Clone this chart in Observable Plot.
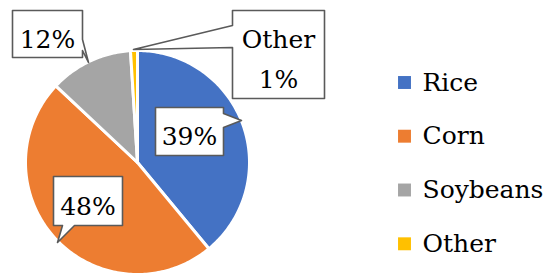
<!DOCTYPE html>
<html>
<head>
<meta charset="utf-8">
<script src="https://cdn.jsdelivr.net/npm/d3@7"></script>
<script src="https://cdn.jsdelivr.net/npm/@observablehq/plot@0.6"></script>
<style>
  html, body { margin: 0; padding: 0; background: #fff; }
  #chart { width: 550px; height: 279px; }
</style>
</head>
<body>
<div id="chart"></div>
<script>
// ---- data ----
const categories = ["Rice", "Corn", "Soybeans", "Other"];
const shares = [39, 48, 12, 1];
const sliceLabels = ["39%", "48%", "12%", "Other\n1%"];
const colors = ["#4472C4", "#ED7D31", "#A5A5A5", "#FFC000"];

// ---- layout ----
const W = 550, H = 279;
const cx = 137, cy = 162, R = 112;
const FONT = "'DejaVu Serif', serif";

const data = categories.map((c, i) => ({category: c, share: shares[i], label: sliceLabels[i]}));
const arcs = d3.pie().sort(null).value(d => d.share)(data);

// slice polygons from pie angles (clockwise from 12 o'clock)
const slicePts = [];
for (const a of arcs) {
  const c = a.data.category;
  slicePts.push({category: c, x: cx, y: cy});
  const n = Math.max(2, Math.ceil((a.endAngle - a.startAngle) / (Math.PI / 180)));
  for (let k = 0; k <= n; k++) {
    const t = a.startAngle + (a.endAngle - a.startAngle) * k / n;
    slicePts.push({category: c, x: cx + R * Math.sin(t), y: cy - R * Math.cos(t)});
  }
}

// callout boxes (layout): box [x0,y0,x1,y1], pointer polygon inserted on one edge
const callouts = {
  "Rice":     {box: [155, 107, 223, 155], side: "right",  base: [113, 127], tip: [241, 120]},
  "Corn":     {box: [53, 176, 122, 225],  side: "bottom", base: [62, 74],   tip: [57, 242]},
  "Soybeans": {box: [12, 10, 82, 57],     side: "right",  base: [39, 50],   tip: [88, 62]},
  "Other":    {box: [232, 10, 324, 98],   side: "left",   base: [25, 47],   tip: [133, 49]}
};

const calloutPts = [];
const calloutText = [];
for (const a of arcs) {
  const c = a.data.category;
  const o = callouts[c];
  const [x0, y0, x1, y1] = o.box;
  let pts;
  if (o.side === "right") {
    pts = [[x0, y0], [x1, y0], [x1, o.base[0]], o.tip, [x1, o.base[1]], [x1, y1], [x0, y1]];
  } else if (o.side === "bottom") {
    pts = [[x0, y0], [x1, y0], [x1, y1], [o.base[1], y1], o.tip, [o.base[0], y1], [x0, y1]];
  } else {
    pts = [[x0, y0], [x1, y0], [x1, y1], [x0, y1], [x0, o.base[1]], o.tip, [x0, o.base[0]]];
  }
  for (const p of pts) calloutPts.push({category: c, x: p[0], y: p[1]});
  calloutText.push({category: c, label: a.data.label, x: (x0 + x1) / 2, y: (y0 + y1) / 2 + 1});
}

const legendX = 404, legendTextX = 422;
const legendY = [82, 135.7, 189.5, 243.3];
const legend = categories.map((c, i) => ({category: c, x: legendX, y: legendY[i]}));

const chart = Plot.plot({
  width: W,
  height: H,
  margin: 0,
  x: {domain: [0, W], range: [0, W], axis: null},
  y: {domain: [0, H], range: [0, H], axis: null},
  color: {domain: categories, range: colors},
  style: {fontFamily: FONT, background: "white"},
  marks: [
    Plot.line(slicePts, {x: "x", y: "y", z: "category", fill: "category", stroke: "white", strokeWidth: 3, curve: "linear-closed"}),
    Plot.line(calloutPts, {x: "x", y: "y", z: "category", fill: "white", stroke: "#5a5a5a", strokeWidth: 1.6, curve: "linear-closed"}),
    Plot.text(calloutText, {x: "x", y: "y", text: "label", fontSize: 25, fill: "#000", lineHeight: 1.6}),
    Plot.dot(legend, {x: "x", y: "y", fill: "category", symbol: "square", r: 7.3}),
    Plot.text(legend, {x: legendTextX, y: "y", text: "category", textAnchor: "start", fontSize: 25, fill: "#000"})
  ]
});
document.getElementById("chart").appendChild(chart);
</script>
</body>
</html>
